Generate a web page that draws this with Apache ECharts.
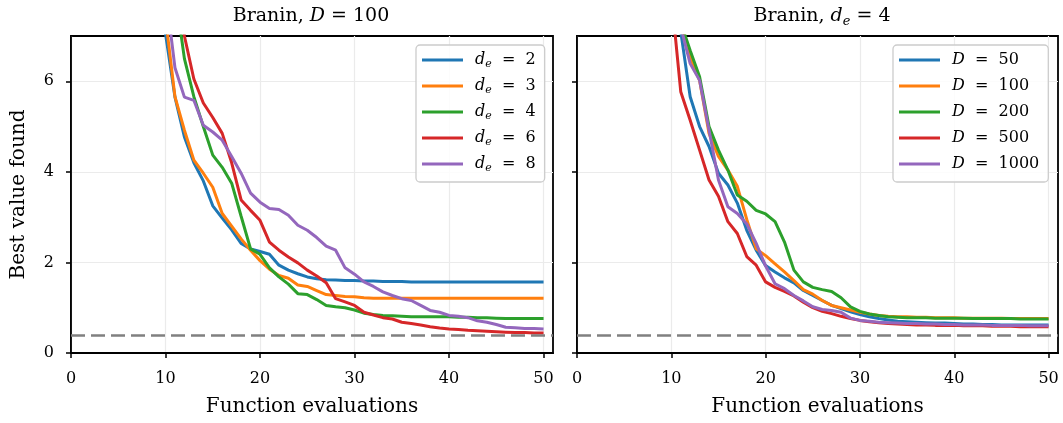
<!DOCTYPE html>
<html>
<head>
<meta charset="utf-8">
<script src="https://cdn.jsdelivr.net/npm/echarts@6/dist/echarts.min.js"></script>
<style>
html,body{margin:0;padding:0;background:#fff;}
#chart{width:1063px;height:423px;}
</style>
</head>
<body>
<div id="chart"></div>
<script>
// ---------------- data ----------------
const EVALS = [1,2,3,4,5,6,7,8,9,10,11,12,13,14,15,16,17,18,19,20,21,22,23,24,25,26,27,28,29,30,31,32,33,34,35,36,37,38,39,40,41,42,43,44,45,46,47,48,49,50];
const X_TICKS = [0,10,20,30,40,50];
const Y_TICKS = [0,2,4,6];
const OPTIMUM = 0.397887;

// Left panel: Branin, D = 100, varying d_e
const LEFT_NAMES = ['d_e = 2','d_e = 3','d_e = 4','d_e = 6','d_e = 8'];
const de2 = [52.1,38.4,30.2,24.6,20.3,17.1,14.9,13.2,11.8,7.05,5.65,4.77,4.2,3.8,3.25,2.98,2.72,2.42,2.3,2.24,2.18,1.94,1.83,1.75,1.68,1.64,1.62,1.61,1.6,1.6,1.59,1.59,1.58,1.58,1.58,1.57,1.57,1.57,1.57,1.57,1.57,1.57,1.57,1.57,1.57,1.57,1.57,1.57,1.57,1.57];
const de3 = [50.5,37.2,29.8,24.1,19.9,16.8,14.6,12.9,11.5,7.4,5.66,4.92,4.26,3.97,3.66,3.08,2.8,2.52,2.27,2.04,1.85,1.71,1.65,1.5,1.47,1.38,1.29,1.27,1.25,1.24,1.22,1.21,1.21,1.21,1.21,1.21,1.21,1.21,1.21,1.21,1.21,1.21,1.21,1.21,1.21,1.21,1.21,1.21,1.21,1.21];
const de4 = [55.0,41.3,33.0,26.8,22.1,18.5,15.6,13.4,11.2,9.5,8.0,6.5,5.66,5.0,4.37,4.1,3.75,3.02,2.3,2.18,1.88,1.68,1.52,1.31,1.29,1.18,1.05,1.02,1.0,0.95,0.88,0.85,0.83,0.82,0.81,0.8,0.8,0.8,0.8,0.8,0.79,0.79,0.78,0.78,0.77,0.76,0.76,0.76,0.76,0.76];
const de6 = [58.2,44.0,35.1,28.7,23.5,19.6,16.4,13.9,11.8,10.2,9.0,7.0,6.05,5.52,5.2,4.85,4.2,3.38,3.15,2.93,2.45,2.27,2.12,1.99,1.83,1.7,1.55,1.2,1.13,1.05,0.9,0.84,0.78,0.75,0.68,0.65,0.62,0.58,0.55,0.53,0.52,0.5,0.49,0.48,0.47,0.46,0.45,0.45,0.44,0.44];
const de8 = [54.0,40.1,31.8,25.9,21.4,17.9,15.1,12.8,10.6,8.0,6.3,5.65,5.58,5.03,4.88,4.7,4.34,3.97,3.53,3.33,3.19,3.17,3.04,2.82,2.71,2.55,2.36,2.27,1.88,1.74,1.57,1.47,1.35,1.27,1.2,1.16,1.05,0.94,0.9,0.83,0.81,0.78,0.71,0.68,0.63,0.57,0.56,0.54,0.54,0.53];

// Right panel: Branin, d_e = 4, varying D
const RIGHT_NAMES = ['D = 50','D = 100','D = 200','D = 500','D = 1000'];
const D50 = [60.3,45.2,35.0,28.1,23.0,19.2,16.1,13.7,11.9,10.8,7.1,5.66,5.0,4.56,3.97,3.71,3.31,2.71,2.27,1.93,1.79,1.66,1.55,1.38,1.27,1.16,1.05,0.98,0.91,0.85,0.8,0.76,0.73,0.7,0.69,0.68,0.67,0.66,0.66,0.65,0.64,0.64,0.63,0.63,0.62,0.62,0.62,0.62,0.62,0.62];
const D100 = [57.8,43.9,34.6,27.7,22.8,19.0,16.0,13.8,12.1,11.0,7.3,6.53,6.02,4.85,4.34,4.04,3.68,2.95,2.3,2.15,1.97,1.79,1.6,1.4,1.3,1.16,1.05,1.0,0.95,0.9,0.86,0.83,0.81,0.8,0.8,0.79,0.79,0.78,0.78,0.78,0.77,0.77,0.77,0.77,0.77,0.76,0.76,0.76,0.76,0.76];
const D200 = [61.0,46.5,36.2,29.0,23.8,19.9,16.8,14.5,13.0,11.6,7.3,6.68,6.1,5.0,4.48,4.04,3.49,3.35,3.15,3.07,2.9,2.45,1.83,1.57,1.45,1.4,1.36,1.22,1.02,0.92,0.86,0.83,0.8,0.79,0.78,0.78,0.78,0.77,0.77,0.77,0.77,0.76,0.76,0.76,0.76,0.76,0.75,0.75,0.75,0.75];
const D500 = [49.7,37.5,29.6,23.9,19.5,16.2,13.6,11.5,9.8,7.9,5.77,5.14,4.48,3.82,3.46,2.9,2.64,2.13,1.94,1.57,1.45,1.36,1.26,1.12,1.0,0.92,0.87,0.81,0.76,0.72,0.69,0.67,0.65,0.64,0.63,0.62,0.62,0.61,0.61,0.61,0.6,0.6,0.6,0.59,0.59,0.59,0.58,0.58,0.58,0.58];
const D1000 = [56.4,42.7,33.9,27.3,22.5,18.8,15.9,13.7,12.4,11.9,7.2,6.39,6.02,4.92,3.82,3.23,3.08,2.85,2.42,1.92,1.53,1.42,1.27,1.15,1.02,0.96,0.94,0.9,0.77,0.72,0.7,0.68,0.67,0.66,0.65,0.65,0.64,0.64,0.63,0.63,0.62,0.62,0.62,0.61,0.61,0.61,0.61,0.6,0.6,0.6];

const COLORS = ['#1f77b4','#ff7f0e','#2ca02c','#d62728','#9467bd'];
const LEFT_VALUES = [de2, de3, de4, de6, de8];
const RIGHT_VALUES = [D50, D100, D200, D500, D1000];

// ---------------- chart ----------------
const FONT = 'DejaVu Serif';
const chart = echarts.init(document.getElementById('chart'), null, {renderer: 'canvas'});

function pairs(vals) { return EVALS.map((x, i) => [x, vals[i]]); }

const richBase = {
  r: {fontFamily: FONT, fontSize: 19, fontWeight: 'normal', color: '#000', lineHeight: 24},
  i: {fontFamily: FONT, fontSize: 19, fontWeight: 'normal', fontStyle: 'italic', color: '#000', lineHeight: 24},
  s: {fontFamily: FONT, fontSize: 13, fontWeight: 'normal', fontStyle: 'italic', color: '#000', lineHeight: 24, verticalAlign: 'bottom'}
};

const legendRich = {
  i: {fontFamily: FONT, fontSize: 16, fontStyle: 'italic', color: '#000', lineHeight: 20, padding: [0, 0, 0, 7]},
  s: {fontFamily: FONT, fontSize: 11, fontStyle: 'italic', color: '#000', lineHeight: 20, verticalAlign: 'bottom'},
  t: {fontFamily: FONT, fontSize: 16, color: '#000', lineHeight: 20}
};

function legendFmt(name) {
  if (name.startsWith('d_e')) {
    return '{i|d}{s|e}{t|  =  ' + name.slice(6) + '}';
  }
  return '{i|D}{t|  =  ' + name.slice(4) + '}';
}

function xAxis(gi) {
  return {
    gridIndex: gi, type: 'value', min: 0, max: 51, interval: 10,
    name: 'Function evaluations', nameLocation: 'middle', nameGap: 44,
    nameTextStyle: {fontFamily: FONT, fontSize: 20, color: '#000'},
    axisLine: {show: true, onZero: false, lineStyle: {color: '#000', width: 1.8}},
    axisTick: {show: true, length: 5, customValues: X_TICKS, lineStyle: {color: '#000', width: 1.5}},
    axisLabel: {customValues: X_TICKS, fontFamily: FONT, fontSize: 16, color: '#000', margin: 18},
    splitLine: {show: true, lineStyle: {color: '#ebebeb', width: 1.2}}
  };
}
function yAxis(gi, labels) {
  return {
    gridIndex: gi, type: 'value', min: 0, max: 7, interval: 2,
    name: labels ? 'Best value found' : '', nameLocation: 'middle', nameGap: 42,
    nameTextStyle: {fontFamily: FONT, fontSize: 20, color: '#000'},
    axisLine: {show: true, onZero: false, lineStyle: {color: '#000', width: 1.8}},
    axisTick: {show: true, length: 5, customValues: Y_TICKS, lineStyle: {color: '#000', width: 1.5}},
    axisLabel: {show: labels, customValues: Y_TICKS, fontFamily: FONT, fontSize: 16, color: '#000', margin: 17},
    splitLine: {show: true, lineStyle: {color: '#ebebeb', width: 1.2}}
  };
}

function makeSeries(names, values, gi) {
  return names.map((n, k) => {
    const s = {
      name: n, type: 'line', xAxisIndex: gi, yAxisIndex: gi,
      data: pairs(values[k]), showSymbol: false, symbol: 'none', clip: true,
      lineStyle: {color: COLORS[k], width: 3}, itemStyle: {color: COLORS[k]},
      z: 3
    };
    if (k === 0) {
      s.markLine = {
        silent: true, symbol: 'none', label: {show: false},
        lineStyle: {color: '#808080', type: [14, 6], width: 2.6},
        emphasis: {disabled: true},
        data: [{yAxis: OPTIMUM}]
      };
    }
    return s;
  });
}

function legendCfg(names, left) {
  return {
    data: names, orient: 'vertical', left: left, top: 45, icon: 'rect',
    itemWidth: 41, itemHeight: 3, itemGap: 6,
    padding: [5, 9, 8, 6],
    backgroundColor: 'rgba(255,255,255,0.85)', borderColor: '#cccccc', borderWidth: 1.3, borderRadius: 4,
    formatter: legendFmt, selectedMode: false,
    textStyle: {fontFamily: FONT, fontSize: 16, color: '#000', lineHeight: 20, rich: legendRich}
  };
}

chart.setOption({
  animation: false,
  backgroundColor: '#ffffff',
  title: [
    {text: '{r|Branin, }{i|D}{r| = 100}', left: 306, top: -1, textAlign: 'center',
     textStyle: {fontWeight: 'normal', rich: richBase}},
    {text: '{r|Branin, }{i|d}{s|e}{r| = 4}', left: 817, top: -1, textAlign: 'center',
     textStyle: {fontWeight: 'normal', rich: richBase}}
  ],
  grid: [
    {left: 71, top: 36, width: 482, height: 317, show: true, borderColor: '#000', borderWidth: 1.8, backgroundColor: 'transparent'},
    {left: 577, top: 36, width: 481, height: 317, show: true, borderColor: '#000', borderWidth: 1.8, backgroundColor: 'transparent'}
  ],
  xAxis: [xAxis(0), xAxis(1)],
  yAxis: [yAxis(0, true), yAxis(1, false)],
  legend: [legendCfg(LEFT_NAMES, 416), legendCfg(RIGHT_NAMES, 893)],
  series: makeSeries(LEFT_NAMES, LEFT_VALUES, 0).concat(makeSeries(RIGHT_NAMES, RIGHT_VALUES, 1))
});
</script>
</body>
</html>
